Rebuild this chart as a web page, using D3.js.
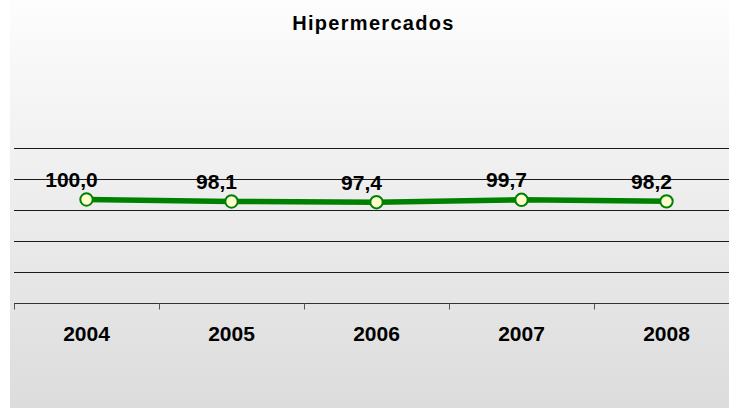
<!DOCTYPE html>
<meta charset="utf-8">
<head>
<title>Hipermercados</title>
<script src="https://cdnjs.cloudflare.com/ajax/libs/d3/7.8.5/d3.min.js" charset="utf-8"></script>
<style type="text/css">
body {margin: 0; background: #fff;}
text {font-family: "Liberation Sans", Arial, sans-serif; font-weight: bold; fill: #000;}
</style>
</head>
<body>
<script>
// Data
var years  = ["2004", "2005", "2006", "2007", "2008"];
var values = [100.0, 98.1, 97.4, 99.7, 98.2];
var yTicks = [0, 30, 60, 90, 120, 150];
var title  = "Hipermercados";

var width  = 729,
    height = 408;

var svg = d3.select("body").append("svg")
  .attr("width", width)
  .attr("height", height);

// Background gradient
var grad = svg.append("defs").append("linearGradient")
  .attr("id", "bg")
  .attr("x1", 0).attr("y1", 0).attr("x2", 0).attr("y2", 1);
grad.append("stop").attr("offset", "0%").attr("stop-color", "#fdfdfd");
grad.append("stop").attr("offset", "100%").attr("stop-color", "#dcdcdc");

svg.append("rect")
  .attr("x", 10).attr("y", 0)
  .attr("width", width - 10).attr("height", height)
  .attr("fill", "url(#bg)");

// Scales
var x = d3.scaleBand()
  .domain(years)
  .range([14, 739]);

var y = d3.scaleLinear()
  .domain([0, 150])
  .range([302.5, 148]);

// Gridlines
svg.append("g")
  .selectAll("line")
  .data(yTicks.slice(1))
  .enter()
  .append("line")
  .attr("x1", 14).attr("x2", width)
  .attr("y1", d => Math.round(y(d)) + 0.5)
  .attr("y2", d => Math.round(y(d)) + 0.5)
  .style("stroke", "#1a1a1a")
  .style("stroke-width", 1);

// X axis
var xAxis = svg.append("g")
  .attr("transform", "translate(0," + (Math.round(y(0)) + 0.5) + ")")
  .call(d3.axisBottom(x).tickSize(0).tickFormat(""));
xAxis.select(".domain").remove();
xAxis.append("line")
  .attr("x1", 14).attr("x2", width)
  .style("stroke", "#333");
xAxis.selectAll(".sep")
  .data(years)
  .enter()
  .append("line")
  .attr("class", "sep")
  .attr("x1", d => Math.round(x(d)) + 0.5)
  .attr("x2", d => Math.round(x(d)) + 0.5)
  .attr("y1", 0).attr("y2", 6)
  .style("stroke", "#555");

svg.append("g")
  .selectAll("text")
  .data(years)
  .enter()
  .append("text")
  .attr("x", d => x(d) + x.bandwidth() / 2)
  .attr("y", 341)
  .attr("text-anchor", "middle")
  .style("font-size", "21px")
  .text(d => d);

// Title
svg.append("text")
  .attr("x", 373.5)
  .attr("y", 30)
  .attr("text-anchor", "middle")
  .style("font-size", "20px")
  .style("letter-spacing", "1.3px")
  .text(title);

// Line
var cx = (d, i) => x(years[i]) + x.bandwidth() / 2;

var line = d3.line()
  .x(cx)
  .y(d => y(d));

svg.append("path")
  .datum(values)
  .attr("d", line)
  .style("fill", "none")
  .style("stroke", "#008000")
  .style("stroke-width", 5.5);

// Markers
svg.append("g")
  .selectAll("circle")
  .data(values)
  .enter()
  .append("circle")
  .attr("cx", cx)
  .attr("cy", d => y(d))
  .attr("r", 6.2)
  .style("fill", "#ffffcc")
  .style("stroke", "#008000")
  .style("stroke-width", 2);

// Data labels
svg.append("g")
  .selectAll("text")
  .data(values)
  .enter()
  .append("text")
  .attr("x", (d, i) => cx(d, i) - 15)
  .attr("y", d => y(d) - 12.5)
  .attr("text-anchor", "middle")
  .style("font-size", "21px")
  .text(d => d.toFixed(1).replace(".", ","));
</script>
</body>
